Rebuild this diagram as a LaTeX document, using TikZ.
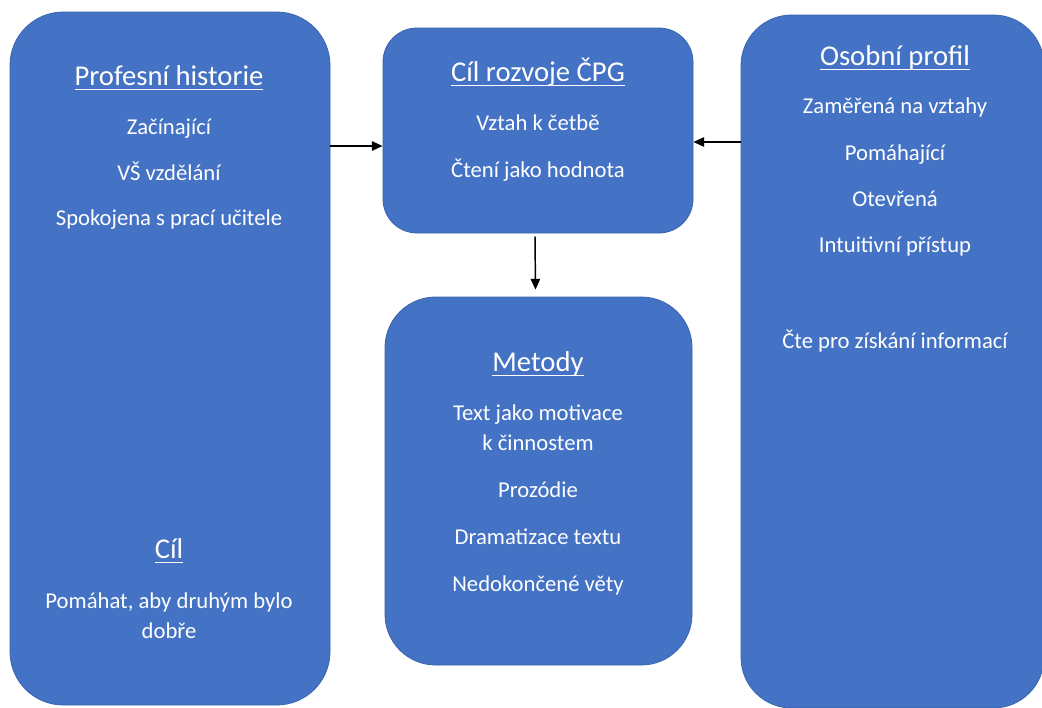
\documentclass[tikz,border=0pt]{standalone}
\usepackage{fontspec}
\setmainfont{Carlito}
\usetikzlibrary{arrows.meta, positioning}
\definecolor{boxblue}{HTML}{4472C4}
\definecolor{boxedge}{HTML}{3A63AE}
\newcommand\hdline[1]{\setbox0\hbox{#1}\rlap{\rule[-4pt]{\wd0}{0.9pt}}\box0}

\begin{document}
\begin{tikzpicture}[x=0.75pt, y=-0.75pt,
    panel/.style={draw=boxedge, fill=boxblue, line width=0.6pt},
    txt/.style={text=white, anchor=base, align=center, inner sep=0pt,
        font=\fontsize{17}{22.5}\selectfont},
    head/.style={text=white, anchor=base, inner sep=0pt,
        font=\fontsize{21.5}{26}\selectfont},
    link/.style={-{Triangle[length=8pt, width=7pt]}, line width=1.1pt}]
    \useasboundingbox (0,0) rectangle (1042,707);

    % boxes
    \node[panel, rounded corners=40pt, minimum width=240pt, minimum height=519.75pt] (hist) at (170,358.5) {};
    \node[panel, rounded corners=25.5pt, minimum width=232.5pt, minimum height=153.75pt] (goal) at (538,130.5) {};
    \node[panel, rounded corners=38pt, minimum width=230.25pt, minimum height=276pt] (meth) at (538.5,481) {};
    \node[panel, rounded corners=38pt, minimum width=227.25pt, minimum height=519.75pt] (prof) at (892.5,361.5) {};

    % Profesni historie
    \node[head] (hist-t) at (169,85) {\hdline{Profesní historie}};
    \node[txt] (hist-1) at (169,134) {Začínající};
    \node[txt] (hist-2) at (169,180) {VŠ vzdělání};
    \node[txt] (hist-3) at (169,225) {Spokojena s prací učitele};
    \node[head] (aim-t) at (169,558) {\hdline{Cíl}};
    \node[txt] (aim-1) at (169,638) {Pomáhat, aby druhým bylo\\dobře};

    % Cil rozvoje
    \node[head] (goal-t) at (538,81) {\hdline{Cíl rozvoje ČPG}};
    \node[txt] (goal-1) at (538,130) {Vztah k četbě};
    \node[txt] (goal-2) at (538,177) {Čtení jako hodnota};

    % Metody
    \node[head] (meth-t) at (538,371) {\hdline{Metody}};
    \node[txt] (meth-1) at (538,450) {Text jako motivace\\k činnostem};
    \node[txt] (meth-2) at (538,497) {Prozódie};
    \node[txt] (meth-3) at (538,544) {Dramatizace textu};
    \node[txt] (meth-4) at (538,591) {Nedokončené věty};

    % Osobni profil
    \node[head] (prof-t) at (895,65) {\hdline{Osobní profil}};
    \node[txt] (prof-1) at (895,113) {Zaměřená na vztahy};
    \node[txt] (prof-2) at (895,160) {Pomáhající};
    \node[txt] (prof-3) at (895,206) {Otevřená};
    \node[txt] (prof-4) at (895,252) {Intuitivní přístup};
    \node[txt] (prof-5) at (895,348) {Čte pro získání informací};

    % arrows
    \draw[link] (hist.east |- 0,146) -- (goal.west |- 0,146);
    \draw[link] (prof.west |- 0,142) -- (goal.east |- 0,142);
    \draw[link] ([shift={(-3,3)}]goal.south) -- ([shift={(-3,-7)}]meth.north);
\end{tikzpicture}
\end{document}
